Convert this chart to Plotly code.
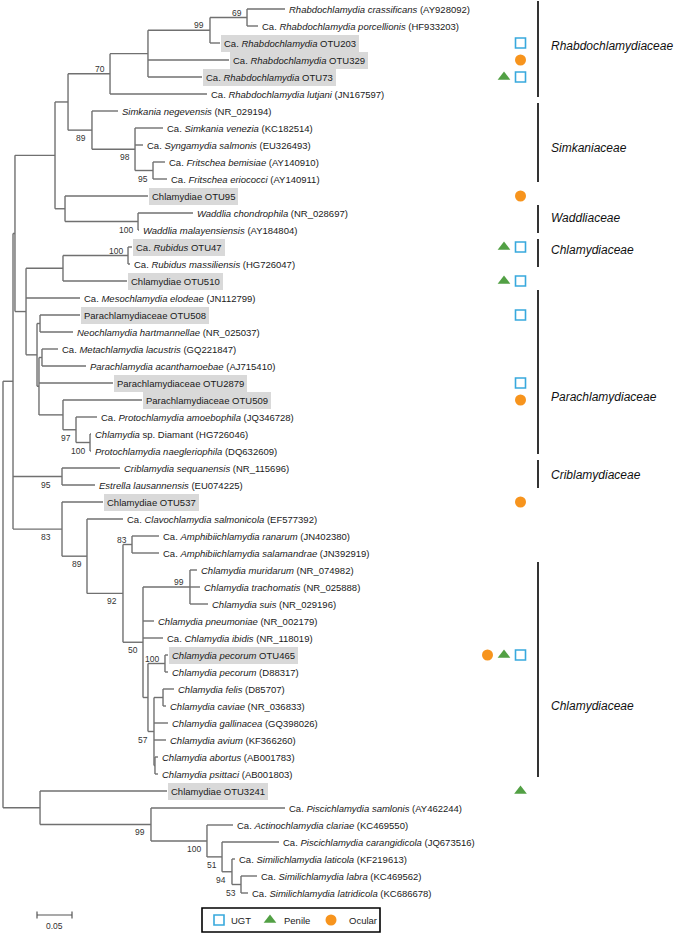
import plotly.graph_objects as go

# ---------------- data ----------------
leaf_labels = [
    "<i>Rhabdochlamydia crassificans</i> (AY928092)",
    "Ca. <i>Rhabdochlamydia porcellionis</i> (HF933203)",
    "Ca. <i>Rhabdochlamydia</i> OTU203",
    "Ca. <i>Rhabdochlamydia</i> OTU329",
    "Ca. <i>Rhabdochlamydia</i> OTU73",
    "Ca. <i>Rhabdochlamydia lutjani</i> (JN167597)",
    "<i>Simkania negevensis</i> (NR_029194)",
    "Ca. <i>Simkania venezia</i> (KC182514)",
    "Ca. <i>Syngamydia salmonis</i> (EU326493)",
    "Ca. <i>Fritschea bemisiae</i> (AY140910)",
    "Ca. <i>Fritschea eriococci</i> (AY140911)",
    "Chlamydiae OTU95",
    "<i>Waddlia chondrophila</i> (NR_028697)",
    "<i>Waddlia malayensiensis</i> (AY184804)",
    "Ca. <i>Rubidus</i> OTU47",
    "Ca. <i>Rubidus massiliensis</i> (HG726047)",
    "Chlamydiae OTU510",
    "Ca. <i>Mesochlamydia elodeae</i> (JN112799)",
    "Parachlamydiaceae OTU508",
    "<i>Neochlamydia hartmannellae</i> (NR_025037)",
    "Ca. <i>Metachlamydia lacustris</i> (GQ221847)",
    "<i>Parachlamydia acanthamoebae</i> (AJ715410)",
    "Parachlamydiaceae OTU2879",
    "Parachlamydiaceae OTU509",
    "Ca. <i>Protochlamydia amoebophila</i> (JQ346728)",
    "<i>Chlamydia</i> sp. Diamant (HG726046)",
    "<i>Protochlamydia naegleriophila</i> (DQ632609)",
    "<i>Criblamydia sequanensis</i> (NR_115696)",
    "<i>Estrella lausannensis</i> (EU074225)",
    "Chlamydiae OTU537",
    "Ca. <i>Clavochlamydia salmonicola</i> (EF577392)",
    "Ca. <i>Amphibiichlamydia ranarum</i> (JN402380)",
    "Ca. <i>Amphibiichlamydia salamandrae</i> (JN392919)",
    "<i>Chlamydia muridarum</i> (NR_074982)",
    "<i>Chlamydia trachomatis</i> (NR_025888)",
    "<i>Chlamydia suis</i> (NR_029196)",
    "<i>Chlamydia pneumoniae</i> (NR_002179)",
    "Ca. <i>Chlamydia ibidis</i> (NR_118019)",
    "<i>Chlamydia pecorum</i> OTU465",
    "<i>Chlamydia pecorum</i> (D88317)",
    "<i>Chlamydia felis</i> (D85707)",
    "<i>Chlamydia caviae</i> (NR_036833)",
    "<i>Chlamydia gallinacea</i> (GQ398026)",
    "<i>Chlamydia avium</i> (KF366260)",
    "<i>Chlamydia abortus</i> (AB001783)",
    "<i>Chlamydia psittaci</i> (AB001803)",
    "Chlamydiae OTU3241",
    "Ca. <i>Piscichlamydia samlonis</i> (AY462244)",
    "Ca. <i>Actinochlamydia clariae</i> (KC469550)",
    "Ca. <i>Piscichlamydia carangidicola</i> (JQ673516)",
    "Ca. <i>Similichlamydia laticola</i> (KF219613)",
    "Ca. <i>Similichlamydia labra</i> (KC469562)",
    "Ca. <i>Similichlamydia latridicola</i> (KC686678)",
]

# distance of each tip from the root (substitutions/site)
leaf_depth = [
    0.4029, 0.3643, 0.3100, 0.3229, 0.2843, 0.2914,
    0.1643, 0.2286, 0.2000, 0.2314, 0.2343,
    0.2071, 0.2714, 0.1943,
    0.1843, 0.1814, 0.1771,
    0.1100, 0.1100, 0.1000, 0.0786, 0.1186, 0.1571, 0.1986, 0.1343, 0.1257, 0.1257,
    0.1671, 0.1314,
    0.1429, 0.1714, 0.2229, 0.2229,
    0.2771, 0.2814, 0.2929, 0.2157, 0.2286, 0.2357, 0.2357,
    0.2443, 0.2329, 0.2357, 0.2329, 0.2214, 0.2214,
    0.2343, 0.4029, 0.3286, 0.3943, 0.3314, 0.3629, 0.3500,
]

# internal nodes: (name, children [leaf index or node name], depth, bootstrap)
clades = [
    ("R69", [0, 1], 0.3486, 69),
    ("R99", ["R69", 2], 0.2957, 99),
    ("Rin", ["R99", 3, 4], 0.2071, None),
    ("R70", ["Rin", 5], 0.1529, 70),
    ("S95", [9, 10], 0.2143, 95),
    ("S98", [7, 8, "S95"], 0.1886, 98),
    ("S89", [6, "S98"], 0.1271, 89),
    ("X68", ["R70", "S89"], 0.0929, None),
    ("W100", [12, 13], 0.1929, 100),
    ("X65", [11, "W100"], 0.0886, None),
    ("X55", ["X68", "X65"], 0.0743, None),
    ("Rub100", [14, 15], 0.1786, 100),
    ("X63r", ["Rub100", 16], 0.0857, None),
    ("X40a", [18, 19], 0.0529, None),
    ("LA", [20, 21], 0.0557, None),
    ("N100d", [25, 26], 0.1243, 100),
    ("N97", [24, "N100d"], 0.1043, 97),
    ("X63", [23, "N97"], 0.0857, None),
    ("Q", ["LA", 22, "X63"], 0.0514, None),
    ("P", ["X40a", "Q"], 0.0486, None),
    ("X26", ["X63r", 17, "P"], 0.0329, None),
    ("N15", ["X55", "X26"], 0.0171, None),
    ("C95", [27, 28], 0.0843, 95),
    ("A83", [31, 32], 0.1843, 83),
    ("N99c", [33, 34, 35], 0.2671, 99),
    ("Pec100", [38, 39], 0.2314, 100),
    ("FC", [40, 41], 0.2286, None),
    ("AP", [44, 45], 0.2171, None),
    ("N57", ["FC", 42, 43, "AP"], 0.2157, 57),
    ("CC", ["Pec100", "N57"], 0.2071, None),
    ("N50", ["N99c", 36, 37, "CC"], 0.2000, 50),
    ("N92", ["A83", "N50"], 0.1714, 92),
    ("N89", [30, "N92"], 0.1200, 89),
    ("N83", [29, "N89"], 0.0843, 83),
    ("N13", ["N15", "C95", "N83"], 0.0143, None),
    ("N53", [51, 52], 0.3400, 53),
    ("N94", [50, "N53"], 0.3271, 94),
    ("N51", [49, "N94"], 0.3129, 51),
    ("P100", [48, "N51"], 0.2914, 100),
    ("P99", [47, "P100"], 0.2114, 99),
    ("B40", [46, "P99"], 0.0529, None),
    ("root", ["N13", "B40"], 0.0, None),
]

highlighted_otus = [2, 3, 4, 11, 14, 16, 18, 22, 23, 29, 38, 46]

# sample sites in which each OTU was detected
otu_sites = {
    2: ["UGT"], 3: ["Ocular"], 4: ["Penile", "UGT"], 11: ["Ocular"],
    14: ["Penile", "UGT"], 16: ["Penile", "UGT"], 18: ["UGT"], 22: ["UGT"],
    23: ["Ocular"], 29: ["Ocular"], 38: ["Ocular", "Penile", "UGT"], 46: ["Penile"],
}

families = [
    ("Rhabdochlamydiaceae", 0, 5),
    ("Simkaniaceae", 6, 10),
    ("Waddliaceae", 12, 13),
    ("Chlamydiaceae", 14, 15),
    ("Parachlamydiaceae", 17, 26),
    ("Criblamydiaceae", 27, 28),
    ("Chlamydiaceae", 33, 45),
]

scale_bar_length = 0.05
site_names = ["UGT", "Penile", "Ocular"]

# ---------------- layout helpers ----------------
W, H = 675, 935
PX_PER_UNIT = 700.0
X0 = 3.0          # pixel of root
ROW = 17.0        # pixel pitch of leaves
Y0 = 9.0          # pixel of first leaf


def dx(px):       # pixel offset -> data units
    return px / PX_PER_UNIT


def xd(px):       # absolute pixel -> data x
    return (px - X0) / PX_PER_UNIT


def dy(py):
    return py / ROW


def yd(py):
    return (py - Y0) / ROW


node_depth = {}
node_y = {}
for i, d in enumerate(leaf_depth):
    node_depth[i] = d
    node_y[i] = float(i)
for name, ch, d, sup in clades:
    node_depth[name] = d
    node_y[name] = (node_y[ch[0]] + node_y[ch[-1]]) / 2.0

parent_of = {}
for name, ch, d, sup in clades:
    for k, c in enumerate(ch):
        parent_of[c] = (name, k)

LINE_C = "#707070"
FONT = "Liberation Sans, Arial, sans-serif"

xs, ys = [], []
for name, ch, d, sup in clades:
    xs += [d, d, None]
    ys += [node_y[ch[0]], node_y[ch[-1]], None]
    for c in ch:
        xs += [d, node_depth[c], None]
        ys += [node_y[c], node_y[c], None]

fig = go.Figure()
fig.add_trace(go.Scatter(x=xs, y=ys, mode="lines",
                         line=dict(color=LINE_C, width=1.4),
                         hoverinfo="skip", showlegend=False))

annotations = []
# leaf labels
for i, lab in enumerate(leaf_labels):
    hl = i in highlighted_otus
    annotations.append(dict(
        x=leaf_depth[i] + dx(1), y=i, xref="x", yref="y",
        text=lab, showarrow=False, xanchor="left", yanchor="middle",
        font=dict(family=FONT, size=9.5, color="#1a1a1a"),
        bgcolor="#d9d9d9" if hl else "rgba(0,0,0,0)",
        borderpad=3, borderwidth=0,
    ))

# bootstrap values
label_shift = {"N83": -9, "C95": -9}
for name, ch, d, sup in clades:
    if sup is None:
        continue
    par, k = parent_of[name]
    above = (k == 0)
    annotations.append(dict(
        x=d + dx(label_shift.get(name, -3.5)),
        y=node_y[name] + dy(-5 if above else 8),
        xref="x", yref="y", text=str(sup), showarrow=False,
        xanchor="right", yanchor="middle",
        font=dict(family=FONT, size=8.5, color="#333333"),
    ))

shapes = []
# family bars and names
fam_label_rows = [2.2, 8.2, 12.3, 14.2, 22.8, 27.4, 41.0]
for (fam, a, b), ry in zip(families, fam_label_rows):
    shapes.append(dict(type="line", xref="x", yref="y",
                       x0=xd(538), x1=xd(538),
                       y0=a + dy(-8), y1=b + dy(3),
                       line=dict(color="black", width=1.6)))
    annotations.append(dict(x=xd(549), y=ry, xref="x", yref="y",
                            text="<i>%s</i>" % fam, showarrow=False,
                            xanchor="left", yanchor="middle",
                            font=dict(family=FONT, size=12, color="#111111")))

# sample-site symbols
sym_style = {
    "UGT": dict(symbol="square-open", size=10, color="#38a9dd", line=dict(width=1.6, color="#38a9dd")),
    "Penile": dict(symbol="triangle-up", size=11, color="#52a044", line=dict(width=0)),
    "Ocular": dict(symbol="circle", size=11, color="#f7941d", line=dict(width=0)),
}
pts = {s: ([], []) for s in site_names}
for leaf, sites in otu_sites.items():
    n = len(sites)
    for j, s in enumerate(sites):
        px = 520.5 - 16.5 * (n - 1 - j)
        pts[s][0].append(xd(px))
        pts[s][1].append(leaf)
for s in site_names:
    fig.add_trace(go.Scatter(x=pts[s][0], y=pts[s][1], mode="markers",
                             marker=sym_style[s], hoverinfo="skip", showlegend=False))

# custom legend box
shapes.append(dict(type="rect", xref="x", yref="y",
                   x0=xd(202), x1=xd(380), y0=yd(908), y1=yd(932),
                   line=dict(color="black", width=1.6), fillcolor="rgba(0,0,0,0)"))
leg_sym_px = [219, 270, 331]
leg_txt_px = [229, 282, 347]
for s, spx, tpx in zip(site_names, leg_sym_px, leg_txt_px):
    fig.add_trace(go.Scatter(x=[xd(spx)], y=[yd(920)], mode="markers",
                             marker=sym_style[s], hoverinfo="skip", showlegend=False))
    annotations.append(dict(x=xd(tpx), y=yd(920.5), xref="x", yref="y", text=s,
                            showarrow=False, xanchor="left", yanchor="middle",
                            font=dict(family=FONT, size=9.5, color="#222222")))

# scale bar
sb0 = xd(37)
sb1 = sb0 + scale_bar_length
shapes.append(dict(type="line", xref="x", yref="y", x0=sb0, x1=sb1,
                   y0=yd(915), y1=yd(915), line=dict(color="#555555", width=1.2)))
for xx in (sb0, sb1):
    shapes.append(dict(type="line", xref="x", yref="y", x0=xx, x1=xx,
                       y0=yd(911.5), y1=yd(918.5), line=dict(color="#555555", width=1.2)))
annotations.append(dict(x=(sb0 + sb1) / 2, y=yd(926), xref="x", yref="y",
                        text="%.2f" % scale_bar_length, showarrow=False,
                        xanchor="center", yanchor="middle",
                        font=dict(family=FONT, size=8.5, color="#333333")))

fig.update_layout(
    width=W, height=H,
    margin=dict(l=0, r=0, t=0, b=0),
    paper_bgcolor="white", plot_bgcolor="white",
    xaxis=dict(range=[xd(0), xd(W)], visible=False, fixedrange=True),
    yaxis=dict(range=[yd(H), yd(0)], visible=False, fixedrange=True),
    shapes=shapes, annotations=annotations, showlegend=False,
)
fig.write_html("out.html", config={"displayModeBar": False},
               post_script="document.body.style.margin='0';document.body.style.overflow='hidden';")
